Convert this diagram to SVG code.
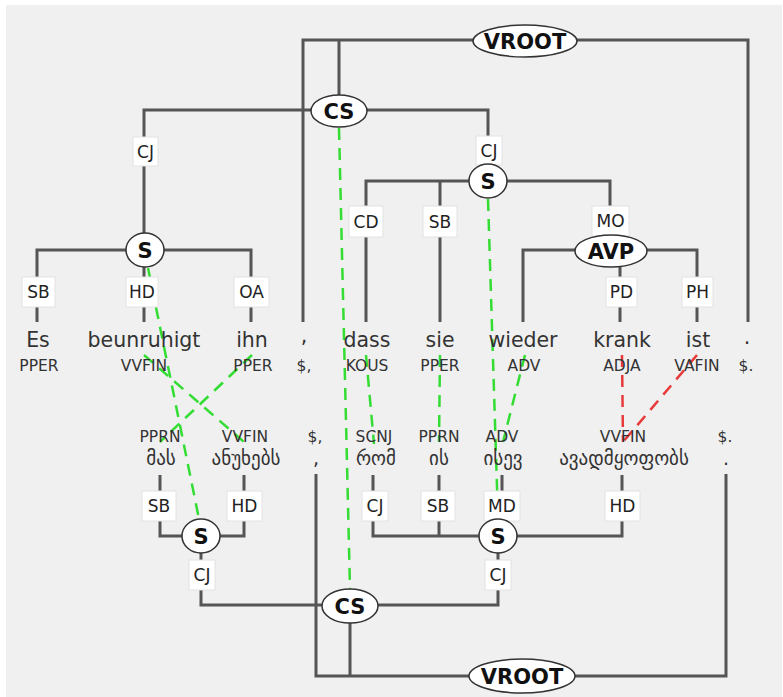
<svg xmlns="http://www.w3.org/2000/svg" width="783" height="697" viewBox="0 0 783 697">
<style>
.edge{stroke:#555;stroke-width:3;fill:none}
.al{stroke:#33dd33;stroke-width:2.5;stroke-dasharray:12 8;fill:none}
.alr{stroke:#e83a3a;stroke-width:2.5;stroke-dasharray:12 8;fill:none}
.lb rect{fill:#ffffff;stroke:#e2e2e2;stroke-width:1}
.lb text{font-family:"DejaVu Sans",sans-serif;font-size:17px;fill:#222;text-anchor:middle}
.nd ellipse{fill:#ffffff;stroke:#333;stroke-width:1.5}
.nd text{font-family:"DejaVu Sans",sans-serif;font-size:21px;font-weight:bold;fill:#111;text-anchor:middle}
.w{font-family:"DejaVu Sans",sans-serif;font-size:20.5px;fill:#333;text-anchor:middle}
.p{font-family:"DejaVu Sans",sans-serif;font-size:15.5px;fill:#333;text-anchor:middle}
.g{font-family:"DejaVu Sans",sans-serif;font-size:19px;fill:#333;text-anchor:middle}
</style>
<rect x="6" y="5" width="776" height="692" fill="#f0f0f0"/>
<g id="connectors">
<path class="edge" d="M303 322V40H748V322"/>
<path class="edge" d="M339 40V95"/>
<path class="edge" d="M144 233V110H488V165"/>
<path class="edge" d="M37 322V250H251V322"/>
<path class="edge" d="M144 250V322"/>
<path class="edge" d="M366 322V181H610V235"/>
<path class="edge" d="M440 181V322"/>
<path class="edge" d="M523 322V250H697V322"/>
<path class="edge" d="M620 266V322"/>
<path class="edge" d="M160 475V536H244V475"/>
<path class="edge" d="M373 475V536H622V475"/>
<path class="edge" d="M439 475V536"/>
<path class="edge" d="M502 475V520"/>
<path class="edge" d="M201 536V605H498V536"/>
<path class="edge" d="M316 474V676H726V474"/>
<path class="edge" d="M350 606V676"/>
<line class="al" x1="148" y1="268" x2="199" y2="519"/>
<line class="al" x1="144" y1="355" x2="244" y2="442"/>
<line class="al" x1="252" y1="355" x2="160" y2="442"/>
<line class="al" x1="339" y1="128" x2="350" y2="589"/>
<line class="al" x1="366" y1="355" x2="374" y2="444"/>
<line class="al" x1="440" y1="355" x2="439" y2="442"/>
<line class="al" x1="488" y1="199" x2="498" y2="519"/>
<line class="al" x1="525" y1="355" x2="503" y2="442"/>
<line class="alr" x1="622" y1="355" x2="623" y2="442"/>
<line class="alr" x1="697" y1="355" x2="623" y2="442"/>
</g>
<g id="labels" class="lb">
<rect x="133" y="137" width="25" height="29"/><text x="145.5" y="158">CJ</text>
<rect x="476" y="136" width="26" height="29"/><text x="489" y="157">CJ</text>
<rect x="22" y="277" width="33" height="30"/><text x="38.5" y="298">SB</text>
<rect x="126" y="277" width="32" height="30"/><text x="142" y="298">HD</text>
<rect x="234" y="277" width="35" height="30"/><text x="251.5" y="298">OA</text>
<rect x="349" y="206" width="34" height="31"/><text x="366" y="228">CD</text>
<rect x="423" y="206" width="34" height="31"/><text x="440" y="228">SB</text>
<rect x="592" y="206" width="37" height="30"/><text x="610.5" y="227">MO</text>
<rect x="606" y="277" width="31" height="30"/><text x="621.5" y="298">PD</text>
<rect x="682" y="277" width="31" height="30"/><text x="697.5" y="298">PH</text>
<rect x="142" y="491" width="34" height="30"/><text x="159" y="512">SB</text>
<rect x="227" y="491" width="35" height="30"/><text x="244.5" y="512">HD</text>
<rect x="189" y="560" width="26" height="30"/><text x="202" y="581">CJ</text>
<rect x="362" y="491" width="26" height="30"/><text x="375" y="512">CJ</text>
<rect x="421" y="491" width="34" height="30"/><text x="438" y="512">SB</text>
<rect x="484" y="491" width="36" height="30"/><text x="502" y="512">MD</text>
<rect x="605" y="491" width="35" height="30"/><text x="622.5" y="512">HD</text>
<rect x="485" y="560" width="26" height="30"/><text x="498" y="581">CJ</text>
</g>
<g id="vroot-top" class="nd"><ellipse cx="525" cy="41" rx="52" ry="16"/><text x="525" y="49">VROOT</text></g>
<g id="cs-top" class="nd"><ellipse cx="339" cy="111" rx="28" ry="16"/><text x="339" y="119">CS</text></g>
<g id="s-1" class="nd"><ellipse cx="145" cy="250" rx="19" ry="17"/><text x="145" y="258">S</text></g>
<g id="s-2" class="nd"><ellipse cx="488" cy="181" rx="19" ry="17"/><text x="488" y="189">S</text></g>
<g id="avp" class="nd"><ellipse cx="611" cy="251" rx="36" ry="16"/><text x="611" y="259">AVP</text></g>
<g id="s-3" class="nd"><ellipse cx="201" cy="536" rx="19" ry="17"/><text x="201" y="544">S</text></g>
<g id="s-4" class="nd"><ellipse cx="498" cy="536" rx="19" ry="17"/><text x="498" y="544">S</text></g>
<g id="cs-bottom" class="nd"><ellipse cx="350" cy="606" rx="28" ry="17"/><text x="350" y="614">CS</text></g>
<g id="vroot-bottom" class="nd"><ellipse cx="522" cy="676" rx="53" ry="17"/><text x="522" y="684">VROOT</text></g>
<g id="tokens-de">
<text class="w" x="38" y="347">Es</text><text class="p" x="39" y="371">PPER</text>
<text class="w" x="144" y="347">beunruhigt</text><text class="p" x="144" y="371">VVFIN</text>
<text class="w" x="252" y="347">ihn</text><text class="p" x="253" y="371">PPER</text>
<text class="w" x="304" y="343">,</text><text class="p" x="304" y="371">$,</text>
<text class="w" x="367" y="347">dass</text><text class="p" x="367" y="371">KOUS</text>
<text class="w" x="440" y="347">sie</text><text class="p" x="440" y="371">PPER</text>
<text class="w" x="523" y="347">wieder</text><text class="p" x="524" y="371">ADV</text>
<text class="w" x="622" y="347">krank</text><text class="p" x="622" y="371">ADJA</text>
<text class="w" x="698" y="347">ist</text><text class="p" x="697" y="371">VAFIN</text>
<text class="w" x="747" y="344">.</text><text class="p" x="746" y="371">$.</text>
</g>
<g id="tokens-ka">
<text class="p" x="160" y="442">PPRN</text><text class="g" x="161" y="465">მას</text>
<text class="p" x="245" y="442">VVFIN</text><text class="g" x="246" y="465">ანუხებს</text>
<text class="p" x="315" y="442">$,</text><text class="g" x="316" y="465">,</text>
<text class="p" x="374" y="442">SCNJ</text><text class="g" x="376" y="465">რომ</text>
<text class="p" x="439" y="442">PPRN</text><text class="g" x="439" y="465">ის</text>
<text class="p" x="502" y="442">ADV</text><text class="g" x="503" y="465">ისევ</text>
<text class="p" x="623" y="442">VVFIN</text><text class="g" x="624" y="465">ავადმყოფობს</text>
<text class="p" x="725" y="442">$.</text><text class="g" x="726" y="465">.</text>
</g>
</svg>
